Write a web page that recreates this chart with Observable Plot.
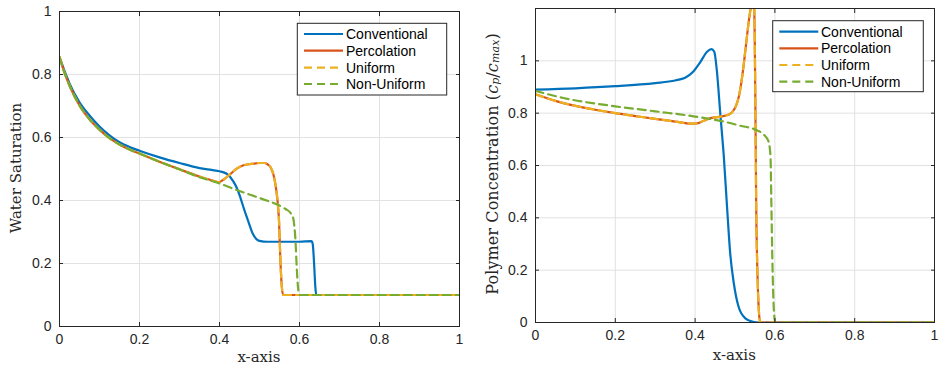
<!DOCTYPE html>
<html><head><meta charset="utf-8">
<script src="https://cdn.jsdelivr.net/npm/d3@7"></script>
<script src="https://cdn.jsdelivr.net/npm/@observablehq/plot@0.6"></script>
<style>
body{margin:0;background:#fff;}
#wrap{display:flex;width:939px;height:366px;overflow:hidden;}
#wrap svg{display:block;flex:none;}
</style></head><body><div id="wrap"></div>
<script>
// ---- data ----
const seriesNames = ["Conventional", "Percolation", "Uniform", "Non-Uniform"];
const seriesColors = ["#0072BD", "#D95319", "#EDB120", "#77AC30"];
const xTicks = [0, 0.2, 0.4, 0.6, 0.8, 1];
const yTicks = [0, 0.2, 0.4, 0.6, 0.8, 1];

// Water saturation [x, S]
const convSat = [[0,0.855],[0.01,0.82],[0.025,0.772],[0.05,0.712],[0.075,0.67],[0.1,0.635],[0.125,0.607],[0.15,0.585],[0.175,0.57],[0.2,0.558],[0.25,0.537],[0.3,0.519],[0.35,0.503],[0.38,0.497],[0.4,0.493],[0.418,0.485],[0.435,0.46],[0.445,0.435],[0.452,0.41],[0.462,0.37],[0.473,0.33],[0.483,0.295],[0.492,0.278],[0.5,0.272],[0.52,0.269],[0.6,0.269],[0.63,0.271],[0.633,0.262],[0.642,0.1],[1,0.1]];
const percSat = [[0,0.855],[0.01,0.815],[0.025,0.765],[0.05,0.702],[0.075,0.658],[0.1,0.625],[0.125,0.598],[0.15,0.578],[0.175,0.562],[0.2,0.549],[0.25,0.523],[0.3,0.499],[0.35,0.476],[0.38,0.464],[0.398,0.458],[0.41,0.466],[0.427,0.484],[0.445,0.503],[0.46,0.512],[0.48,0.516],[0.5,0.519],[0.512,0.519],[0.52,0.515],[0.528,0.505],[0.535,0.482],[0.54,0.45],[0.545,0.4],[0.549,0.33],[0.552,0.22],[0.555,0.14],[0.559,0.1],[1,0.1]];
const uniSat = percSat;
const nonUniSat = [[0,0.855],[0.01,0.815],[0.025,0.765],[0.05,0.702],[0.075,0.658],[0.1,0.625],[0.125,0.598],[0.15,0.578],[0.175,0.562],[0.2,0.549],[0.25,0.523],[0.3,0.499],[0.35,0.474],[0.38,0.462],[0.398,0.455],[0.435,0.437],[0.477,0.418],[0.518,0.4],[0.545,0.387],[0.565,0.373],[0.578,0.36],[0.584,0.346],[0.587,0.32],[0.59,0.272],[0.593,0.19],[0.597,0.115],[0.6,0.1],[1,0.1]];

// Polymer concentration [x, c]
const convPoly = [[0,0.89],[0.1,0.895],[0.2,0.903],[0.3,0.915],[0.35,0.925],[0.375,0.935],[0.395,0.958],[0.413,0.995],[0.43,1.035],[0.441,1.045],[0.448,1.035],[0.455,0.955],[0.463,0.8],[0.472,0.634],[0.48,0.443],[0.488,0.264],[0.497,0.15],[0.509,0.06],[0.526,0.016],[0.545,0.003],[0.56,0],[1,0]];
const percPoly = [[0,0.872],[0.05,0.847],[0.1,0.828],[0.15,0.813],[0.2,0.8],[0.25,0.789],[0.3,0.778],[0.35,0.768],[0.39,0.76],[0.405,0.761],[0.42,0.77],[0.435,0.779],[0.46,0.786],[0.485,0.795],[0.495,0.808],[0.503,0.83],[0.51,0.866],[0.518,0.94],[0.526,1.04],[0.534,1.145],[0.54,1.21],[0.544,1.26],[0.548,1.21],[0.551,0.85],[0.553,0.47],[0.557,0.15],[0.56,0.04],[0.563,0],[1,0]];
const uniPoly = percPoly;
const nonUniPoly = [[0,0.885],[0.07,0.858],[0.2,0.826],[0.3,0.807],[0.4,0.787],[0.48,0.765],[0.513,0.752],[0.551,0.737],[0.572,0.718],[0.584,0.692],[0.589,0.634],[0.591,0.468],[0.594,0.213],[0.597,0.06],[0.601,0],[1,0]];

// ---- drawing ----
const SANS = "'Liberation Sans', Arial, Helvetica, sans-serif";
const SERIF = "'DejaVu Serif', 'Liberation Serif', serif";
const AX = "#262626";
const dashes = [null, null, "8,5", "8,5"];

function panel(cfg) {
  const series = cfg.series;
  const lines = series.map((data, i) => Plot.line(data, {
    x: d => d[0], y: d => d[1], stroke: seriesColors[i], strokeWidth: 2.2,
    strokeDasharray: dashes[i] || undefined, curve: "monotone-x", clip: true
  }));
  const fmt = d => String(d);
  const svg = Plot.plot({
    width: cfg.width, height: 366,
    marginLeft: cfg.ml, marginRight: cfg.mr, marginTop: cfg.mt, marginBottom: cfg.mb,
    style: {fontFamily: SANS, fontSize: "14px", color: AX, background: "#fff"},
    x: {domain: [0, 1]},
    y: {domain: cfg.yDomain},
    marks: [
      Plot.gridX(xTicks, {stroke: "#e2e2e2", strokeOpacity: 1}),
      Plot.gridY(yTicks, {stroke: "#e2e2e2", strokeOpacity: 1}),
      ...lines,
      Plot.frame({stroke: AX, strokeWidth: 1}),
      Plot.axisX(xTicks, {anchor: "bottom", tickSize: 0, tickPadding: 8, tickFormat: fmt, label: null}),
      Plot.axisY(yTicks, {anchor: "left", tickSize: 0, tickPadding: 8, tickFormat: fmt, label: null}),
      Plot.axisX(xTicks, {anchor: "bottom", tickSize: -4, fill: "none", label: null, stroke: AX}),
      Plot.axisX(xTicks, {anchor: "top", tickSize: -4, fill: "none", label: null, stroke: AX}),
      Plot.axisY(yTicks, {anchor: "left", tickSize: -4, fill: "none", label: null, stroke: AX}),
      Plot.axisY(yTicks, {anchor: "right", tickSize: -4, fill: "none", label: null, stroke: AX})
    ]
  });
  const s = d3.select(svg);
  // x label
  s.append("text").attr("x", cfg.xl[0]).attr("y", cfg.xl[1])
    .attr("text-anchor", "middle").attr("dominant-baseline", "central")
    .attr("font-family", SERIF).attr("font-size", 15).attr("fill", AX).text("x-axis");
  // y label
  const yl = s.append("text")
    .attr("transform", `translate(${cfg.yl[0]},${cfg.yl[1]}) rotate(-90)`)
    .attr("text-anchor", "middle").attr("dominant-baseline", "central")
    .attr("font-family", SERIF).attr("fill", AX);
  cfg.ylabel(yl);
  // legend
  const L = cfg.legend;
  const g = s.append("g");
  g.append("rect").attr("x", L.x).attr("y", L.y).attr("width", L.w).attr("height", L.h)
    .attr("fill", "#fff").attr("stroke", AX).attr("stroke-width", 1);
  seriesNames.forEach((name, i) => {
    const yy = L.rows[i];
    g.append("line").attr("x1", L.lx1).attr("x2", L.lx2).attr("y1", yy).attr("y2", yy)
      .attr("stroke", seriesColors[i]).attr("stroke-width", 2.2)
      .attr("stroke-dasharray", dashes[i] || null);
    g.append("text").attr("x", L.tx).attr("y", yy).attr("dominant-baseline", "central")
      .attr("text-anchor", "start")
      .attr("font-family", SANS).attr("font-size", 14).attr("fill", "#000").text(name);
  });
  return svg;
}

const wrap = document.getElementById("wrap");
wrap.appendChild(panel({
  width: 470, ml: 59, mr: 11, mt: 11, mb: 40, yDomain: [0, 1],
  series: [convSat, percSat, uniSat, nonUniSat],
  xl: [259, 357], yl: [15.5, 168],
  ylabel: t => t.attr("font-size", 15).text("Water Saturation"),
  legend: {x: 297.3, y: 23.3, w: 149.4, h: 71.7, rows: [34, 50.7, 67.7, 84], lx1: 304, lx2: 343, tx: 346}
}));
wrap.appendChild(panel({
  width: 469, ml: 65, mr: 5, mt: 8, mb: 44, yDomain: [0, 1.2],
  series: [convPoly, percPoly, uniPoly, nonUniPoly],
  xl: [264.3, 355], yl: [22, 164],
  ylabel: t => {
    t.attr("font-size", 16).attr("letter-spacing", 0.1);
    t.append("tspan").text("Polymer Concentration (");
    t.append("tspan").attr("font-style", "italic").text("c");
    t.append("tspan").attr("font-style", "italic").attr("font-size", 11).attr("dy", 3).text("p");
    t.append("tspan").attr("dy", -3).text("/");
    t.append("tspan").attr("font-style", "italic").text("c");
    t.append("tspan").attr("font-style", "italic").attr("font-size", 11).attr("dy", 3).text("max");
    t.append("tspan").attr("dy", -3).text(")");
  },
  legend: {x: 302.7, y: 20.7, w: 150.6, h: 71, rows: [31.7, 48.3, 65, 81.7], lx1: 309.3, lx2: 348.3, tx: 351}
}));
</script></body></html>
